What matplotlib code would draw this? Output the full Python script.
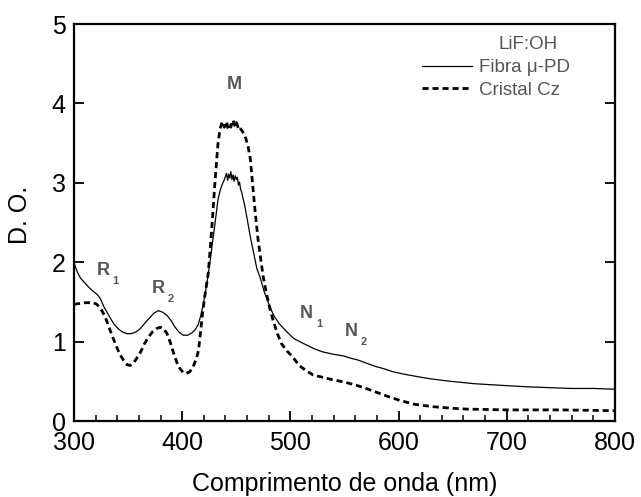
import matplotlib
matplotlib.use("Agg")
import matplotlib.pyplot as plt

plt.rcParams['font.family'] = ['Liberation Sans', 'DejaVu Sans']

# Optical density spectra of LiF:OH
fibra_nm = [300, 303, 306, 310, 314, 318, 321, 324, 328, 333, 337, 341, 345, 349, 353, 357,
            361, 366, 370, 374, 378, 382, 386, 390, 393, 397, 401, 405, 409, 412, 415, 417,
            419, 421, 423, 426, 428, 430, 433, 435, 437, 439, 440, 441, 442, 443, 444, 445,
            446, 447, 448, 449, 450, 451, 452, 453, 454, 455, 456, 458, 460, 463, 466, 469,
            472, 476, 481, 485, 490, 497, 503, 510, 516, 522, 530, 540, 549, 556, 562, 570,
            578, 586, 595, 605, 617, 630, 648, 670, 694, 720, 740, 760, 780, 800]
fibra_od = [1.99, 1.88, 1.80, 1.74, 1.68, 1.63, 1.60, 1.55, 1.43, 1.31, 1.22, 1.16, 1.12, 1.10, 1.10, 1.12,
            1.16, 1.24, 1.30, 1.36, 1.39, 1.37, 1.33, 1.26, 1.19, 1.12, 1.08, 1.08, 1.11, 1.15, 1.22, 1.32,
            1.44, 1.58, 1.75, 2.03, 2.25, 2.45, 2.78, 2.90, 2.98, 3.04, 3.08, 3.12, 3.03, 3.11, 3.06, 3.14,
            3.04, 3.10, 3.02, 3.09, 3.04, 3.07, 2.97, 3.01, 2.92, 2.88, 2.82, 2.70, 2.55, 2.32, 2.12, 1.92,
            1.81, 1.62, 1.44, 1.32, 1.22, 1.12, 1.04, 0.99, 0.95, 0.91, 0.87, 0.84, 0.82, 0.79, 0.77, 0.73,
            0.69, 0.66, 0.62, 0.59, 0.56, 0.53, 0.50, 0.47, 0.45, 0.43, 0.42, 0.41, 0.41, 0.40]

cristal_nm = [300, 305, 310, 315, 318, 321, 324, 327, 330, 334, 338, 342, 346, 349, 352, 355,
              358, 362, 365, 369, 373, 377, 380, 383, 386, 389, 392, 395, 398, 401, 404, 407,
              410, 413, 415, 417, 419, 421, 424, 426, 428, 430, 433, 435, 437, 438, 439, 440,
              441, 442, 443, 444, 445, 446, 447, 448, 449, 450, 451, 452, 453, 455, 457, 459,
              461, 463, 465, 467, 470, 473, 475, 478, 481, 484, 488, 492, 497, 502, 508, 515,
              521, 530, 539, 550, 561, 570, 580, 590, 601, 615, 632, 650, 663, 700, 750, 800]
cristal_od = [1.47, 1.48, 1.49, 1.49, 1.49, 1.47, 1.43, 1.36, 1.27, 1.12, 0.98, 0.85, 0.76, 0.71, 0.70, 0.73,
              0.79, 0.88, 0.97, 1.06, 1.13, 1.17, 1.18, 1.16, 1.10, 0.99, 0.86, 0.74, 0.66, 0.61, 0.60, 0.62,
              0.68, 0.78, 0.88, 1.12, 1.38, 1.58, 1.85, 2.18, 2.55, 2.95, 3.48, 3.68, 3.77, 3.74, 3.70, 3.75,
              3.77, 3.70, 3.68, 3.72, 3.70, 3.76, 3.79, 3.74, 3.71, 3.76, 3.73, 3.68, 3.70, 3.66, 3.62, 3.55,
              3.45, 3.30, 3.00, 2.70, 2.30, 2.00, 1.81, 1.60, 1.42, 1.27, 1.10, 0.97, 0.88, 0.81, 0.70, 0.63,
              0.58, 0.55, 0.52, 0.49, 0.45, 0.41, 0.36, 0.31, 0.26, 0.21, 0.18, 0.16, 0.15, 0.14, 0.14, 0.13]

band_labels = ["R", "R", "M", "N", "N"]
band_subs = ["1", "2", "", "1", "2"]
band_x = [321, 372, 448, 509, 550]
band_y = [1.90, 1.67, 4.24, 1.35, 1.13]

x_ticks = [300, 400, 500, 600, 700, 800]
y_ticks = [0, 1, 2, 3, 4, 5]

fig = plt.figure(figsize=(6.41, 4.97), dpi=100)
ax = fig.add_axes([0.1154, 0.1529, 0.844, 0.7988])

ax.plot(fibra_nm, fibra_od, color='black', lw=0.9, label='Fibra \u03bc-PD')
ax.plot(cristal_nm, cristal_od, color='black', lw=2.0, dashes=(2.2, 1.4), label='Cristal Cz')

ax.set_xlim(300, 800)
ax.set_ylim(0, 5)
ax.set_xticks(x_ticks)
ax.set_yticks(y_ticks)
ax.set_xticks(range(300, 801, 20), minor=True)

for s in ax.spines.values():
    s.set_linewidth(1.6)

ax.tick_params(axis='x', which='major', direction='in', length=7, width=1.3,
               labelsize=18, pad=7.5)
ax.tick_params(axis='x', which='minor', direction='in', length=4, width=1.1)
ax.tick_params(axis='y', which='major', direction='in', length=7, width=1.3,
               labelsize=18, pad=6, right=True)

ax.set_xlabel('Comprimento de onda (nm)', fontsize=18, labelpad=12)
ax.set_ylabel('D. O.', fontsize=18)
ax.yaxis.set_label_coords(-0.078, 0.52)

grey = '#555555'
for lab, sub, x, y in zip(band_labels, band_subs, band_x, band_y):
    ha = 'center' if not sub else 'left'
    ax.text(x, y, lab, fontsize=13, fontweight='bold', color=grey, ha=ha, va='center')
    if sub:
        ax.annotate(sub, xy=(x, y), xytext=(11.5, -7.5), textcoords='offset points',
                    fontsize=8, fontweight='bold', color=grey, ha='left', va='center')

leg = ax.legend(loc='upper left', bbox_to_anchor=(0.643, 0.912), frameon=False,
                fontsize=13.5, handlelength=2.7, handletextpad=0.35, labelspacing=0.3,
                borderpad=0, borderaxespad=0)
for txt in leg.get_texts():
    txt.set_color(grey)
ax.text(0.84, 0.948, 'LiF:OH', transform=ax.transAxes, fontsize=13.5, color=grey,
        ha='center', va='center')

fig.savefig('out.png', dpi=100)
